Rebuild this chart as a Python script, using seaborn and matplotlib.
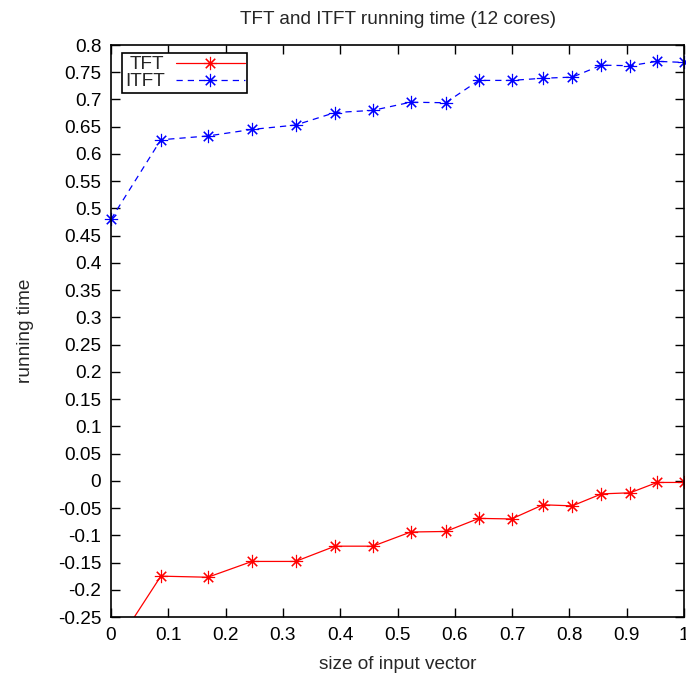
import matplotlib
matplotlib.use("Agg")
import matplotlib.pyplot as plt
from matplotlib.ticker import MultipleLocator, FuncFormatter
import seaborn as sns
import pandas as pd

# values
sizes = [0, 0.087, 0.169, 0.246, 0.322, 0.391, 0.457, 0.523, 0.584,
         0.642, 0.699, 0.754, 0.805, 0.856, 0.906, 0.953, 1.0]
tft_time = [-0.316, -0.175, -0.177, -0.148, -0.148, -0.120, -0.120, -0.094, -0.093,
            -0.069, -0.070, -0.044, -0.046, -0.024, -0.022, -0.003, -0.003]
itft_time = [0.480, 0.626, 0.633, 0.645, 0.653, 0.676, 0.680, 0.695, 0.694,
             0.735, 0.735, 0.739, 0.741, 0.763, 0.762, 0.770, 0.768]

sns.set_style("ticks")
plt.rcParams['font.family'] = ['Liberation Sans', 'DejaVu Sans']
plt.rcParams['axes.unicode_minus'] = False
fs = 13.7

df = pd.DataFrame({"size": sizes * 2,
                   "time": tft_time + itft_time,
                   "algo": ["TFT"] * len(sizes) + ["ITFT"] * len(sizes)})

fig = plt.figure(figsize=(6.86, 6.79), dpi=100)
ax = fig.add_axes([111 / 686, 1 - 617 / 679, 573 / 686, 572 / 679])

star = (8, 2, 0)
sns.lineplot(data=df[df.algo == "TFT"], x="size", y="time", ax=ax, color="#ff0000",
             lw=0.9, marker=star, markersize=9.5, markeredgewidth=0.8,
             markeredgecolor="#ff0000", label="TFT")
sns.lineplot(data=df[df.algo == "ITFT"], x="size", y="time", ax=ax, color="#0000ff",
             lw=0.9, marker=star, markersize=9.5, markeredgewidth=0.8,
             markeredgecolor="#0000ff", label="ITFT", clip_on=False)
ax.lines[1].set_dashes((5, 4))

ax.set_xlim(0, 1)
ax.set_ylim(-0.25, 0.8)
ax.xaxis.set_major_locator(MultipleLocator(0.1))
ax.yaxis.set_major_locator(MultipleLocator(0.05))
fmt = FuncFormatter(lambda v, p: "%g" % round(v, 4))
ax.xaxis.set_major_formatter(fmt)
ax.yaxis.set_major_formatter(fmt)
ax.tick_params(direction="in", length=6.5, width=1, top=True, right=True,
               labelsize=fs, colors="black", pad=7)
for sp in ax.spines.values():
    sp.set_visible(True)
    sp.set_linewidth(1.2)
    sp.set_color("black")

ax.set_xlabel("size of input vector", fontsize=fs, labelpad=9)
ax.set_ylabel("running time", fontsize=fs, labelpad=17)
ax.set_title("TFT and ITFT running time (12 cores)", fontsize=fs, pad=15)

leg = ax.legend(loc="upper left", bbox_to_anchor=(11 / 573, 1 - 8 / 572),
                borderaxespad=0, markerfirst=False, fancybox=False, framealpha=1,
                edgecolor="black", fontsize=fs, handlelength=3.6, handletextpad=0.6,
                labelspacing=0, borderpad=0.15)
leg.get_frame().set_linewidth(1.2)

fig.savefig("out.png", dpi=100)
